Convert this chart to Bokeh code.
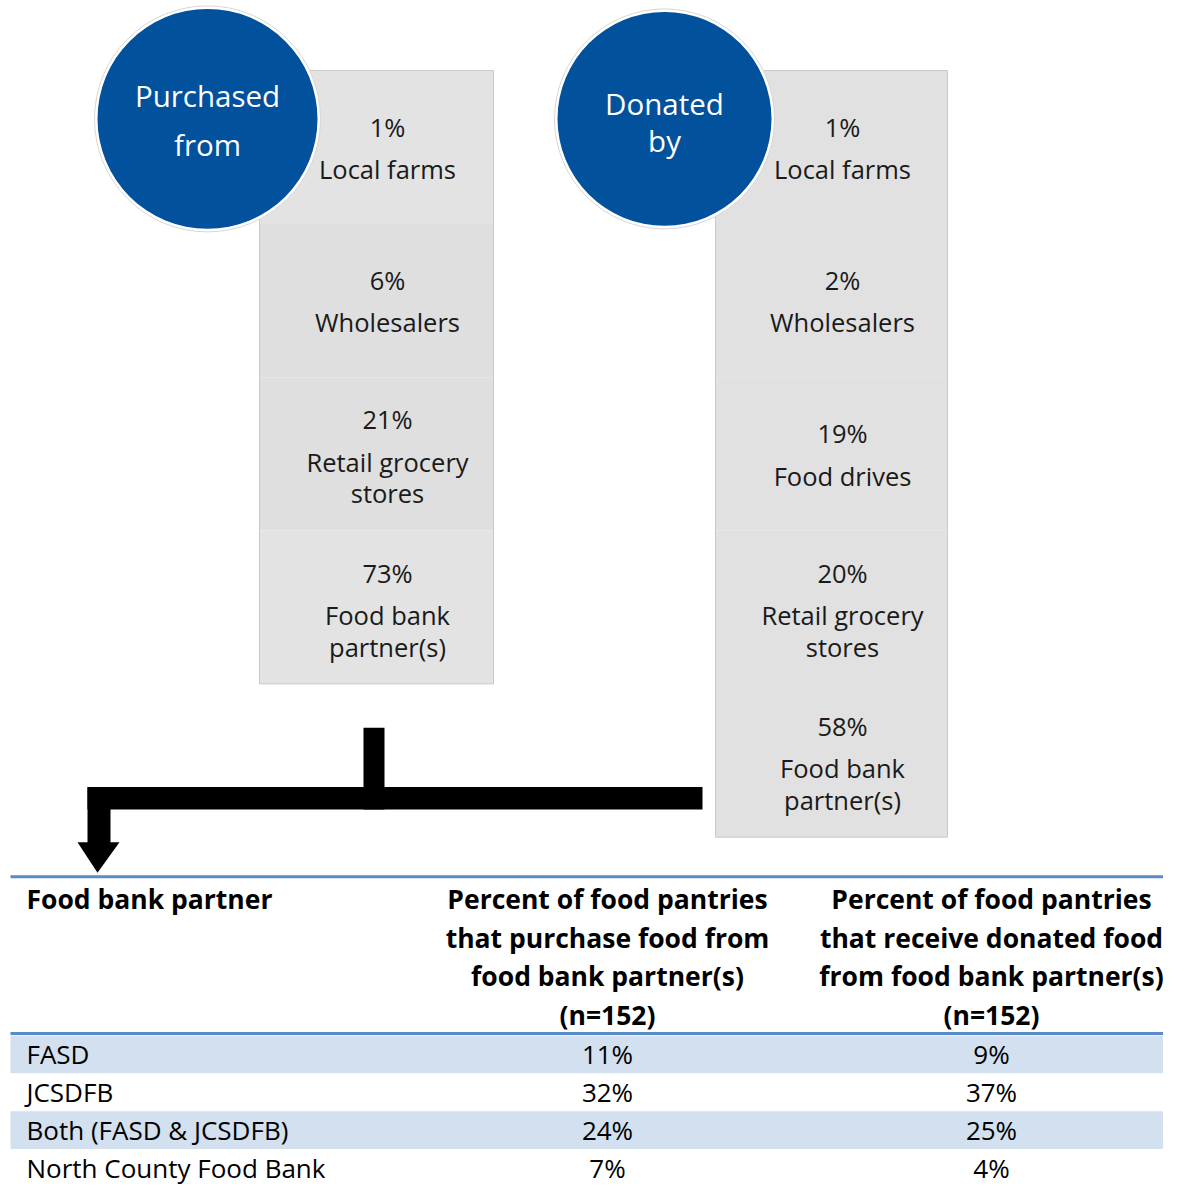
from bokeh.plotting import figure
from bokeh.models import Range1d
from bokeh.core.properties import value
from bokeh.embed import file_html
from bokeh.resources import INLINE

# ---------------- data ----------------
purchased_pct = ["1%", "6%", "21%", "73%"]
purchased_labels = ["Local farms", "Wholesalers", "Retail grocery\nstores", "Food bank\npartner(s)"]
donated_pct = ["1%", "2%", "19%", "20%", "58%"]
donated_labels = ["Local farms", "Wholesalers", "Food drives", "Retail grocery\nstores", "Food bank\npartner(s)"]

table_headers = ["Food bank partner",
                 "Percent of food pantries\nthat purchase food from\nfood bank partner(s)\n(n=152)",
                 "Percent of food pantries\nthat receive donated food\nfrom food bank partner(s)\n(n=152)"]
partners = ["FASD", "JCSDFB", "Both (FASD & JCSDFB)", "North County Food Bank"]
purchase_share = ["11%", "32%", "24%", "7%"]
donate_share = ["9%", "37%", "25%", "4%"]

# ---------------- layout ----------------
FONT = value("Open Sans")
BLUE = "#02519c"
SEG_H = 155.4
BOX_TOP = 71

p = figure(width=1163, height=1187, output_backend="svg", toolbar_location=None,
           x_range=Range1d(0, 1163), y_range=Range1d(1203, 0), min_border=0)
p.axis.visible = False
p.grid.visible = False
p.outline_line_color = None
p.background_fill_color = "white"
p.border_fill_color = "white"


def column(x0, x1, pcts, labels, cx, fills):
    n = len(pcts)
    tops = [BOX_TOP + i * SEG_H for i in range(n)]
    bottoms = [t + SEG_H for t in tops]
    p.quad(left=[x0] * n, right=[x1] * n, top=tops, bottom=bottoms,
           fill_color=fills, line_color=None)
    p.quad(left=[x0], right=[x1], top=[BOX_TOP], bottom=[BOX_TOP + n * SEG_H],
           fill_color=None, line_color="#c9c9c9", line_width=1)
    tx, ty, tt = [], [], []
    for i in range(n):
        c = tops[i] + SEG_H / 2
        lines = labels[i].split("\n")
        if len(lines) == 1:
            tx += [cx, cx]; ty += [c - 21, c + 22]; tt += [pcts[i], lines[0]]
        else:
            tx += [cx, cx, cx]; ty += [c - 35, c + 8, c + 40]
            tt += [pcts[i], lines[0], lines[1]]
    p.text(x=tx, y=ty, text=tt, text_font=FONT, text_font_size="25.5px",
           text_color="#1a1a1a", text_align="center", text_baseline="middle")


column(259, 493, purchased_pct, purchased_labels, 387,
       ["#e3e3e3", "#dfdfdf", "#dfdfdf", "#e3e3e3"])
column(715, 947, donated_pct, donated_labels, 842, ["#e1e1e1"] * 5)

# circles
p.circle(x=[207, 664], y=[120, 120], radius=[113, 110], fill_color="white",
         line_color="#d6d6d6", line_width=1)
p.circle(x=[207, 664], y=[120, 120], radius=[110, 107], fill_color=BLUE,
         line_color=None)
p.text(x=[207, 207, 664, 664], y=[96, 146, 104, 142],
       text=["Purchased", "from", "Donated", "by"], text_font=FONT,
       text_font_size="29.5px", text_color="white", text_align="center",
       text_baseline="middle")

# arrow connector
p.quad(left=[363, 87, 87], right=[384, 702, 110], top=[737, 797, 797],
       bottom=[820, 820, 855], fill_color="black", line_color=None)
p.patch(x=[77, 119, 97], y=[853, 853, 884], fill_color="black", line_color=None)

# ---------------- table ----------------
TBL_L, TBL_R = 10, 1179
HDR_TOP, HDR_BOT = 888, 1047
ROW_H = 38.3
COL_X = [26, 607, 991]

nrows = len(partners)
row_tops = [HDR_BOT + 2 + i * ROW_H for i in range(nrows)]
shade = [i for i in range(nrows) if i % 2 == 0]
p.quad(left=[TBL_L] * len(shade), right=[TBL_R] * len(shade),
       top=[row_tops[i] for i in shade], bottom=[row_tops[i] + ROW_H for i in shade],
       fill_color="#d3e0ef", line_color=None)
p.segment(x0=[TBL_L, TBL_L], x1=[TBL_R, TBL_R], y0=[HDR_TOP, HDR_BOT],
          y1=[HDR_TOP, HDR_BOT], line_color="#5b8bc6", line_width=3)

hx, hy, ht, ha = [], [], [], []
for j, h in enumerate(table_headers):
    for k, line in enumerate(h.split("\n")):
        hx.append(COL_X[j]); hy.append(911 + k * 39)
        ht.append(line); ha.append("left" if j == 0 else "center")
p.text(x=hx, y=hy, text=ht, text_align=ha, text_font=FONT,
       text_font_size="26.5px", text_font_style="bold", text_color="black",
       text_baseline="middle")

rx, ry, rt, ra = [], [], [], []
for i in range(nrows):
    cy = row_tops[i] + ROW_H / 2
    for j, v in enumerate([partners[i], purchase_share[i], donate_share[i]]):
        rx.append(COL_X[j]); ry.append(cy); rt.append(v)
        ra.append("left" if j == 0 else "center")
p.text(x=rx, y=ry, text=rt, text_align=ra, text_font=FONT,
       text_font_size="26px", text_color="black", text_baseline="middle")

open("out.html", "w").write(file_html(p, INLINE))
